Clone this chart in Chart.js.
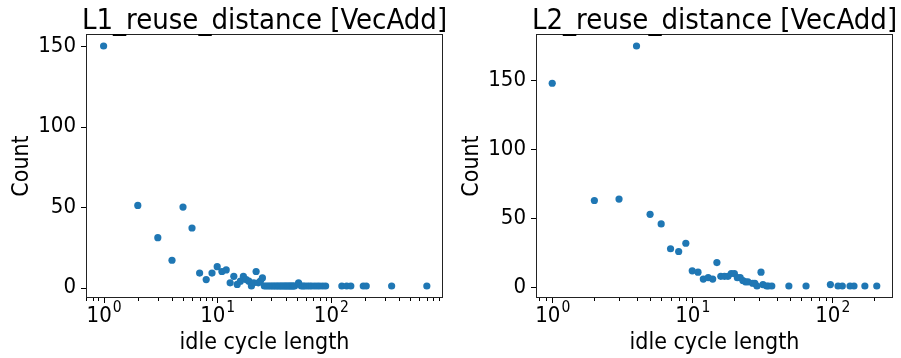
<!DOCTYPE html>
<html><head><meta charset="utf-8">
<script src="https://cdn.jsdelivr.net/npm/chart.js@4.4.0/dist/chart.umd.min.js"></script>
<style>
html,body{margin:0;padding:0;background:#fff;width:901px;height:358px;overflow:hidden}
canvas{position:absolute;top:0}
#c1{left:0}
#c2{left:455px}
</style></head><body>
<canvas id="c1" width="455" height="358" style="width:455px;height:358px"></canvas>
<canvas id="c2" width="446" height="358" style="width:446px;height:358px"></canvas>
<script>
// ---- data ----
const titles = ["L1_reuse_distance [VecAdd]", "L2_reuse_distance [VecAdd]"];
const xLabel = "idle cycle length";
const yLabel = "Count";
const yTicks = [0, 50, 100, 150];
const xMajorTicks = [1, 10, 100, 1000];

const l1X = [1,2,3,4,5,6,7,8,9,10,11,12,13,14,15,16,17,18,19,20,21,22,23,24,25,
  26,27,28,29,30,31,32,33,34,35,36,37,38,39,40,41,42,43,44,45,46,47,48,
  52,55,57,59,62,65,68,72,76,80,85,90,125,138,150,193,205,343,700];
const l1Y = [150,51,31,17,50,37,9,5,9,13,10,11,3,7,2,4,7,5,4,1,3,10,3,4,6,
  1,1,1,1,1,1,1,1,1,1,1,1,1,1,1,1,1,1,1,1,1,1,1,
  3,1,1,1,1,1,1,1,1,1,1,1,1,1,1,1,1,1,1];

const l2X = [1,2,3,4,5,6,7,8,9,10,11,12,13,14,15,16,17,18,19,20,21,22,23,24,25,
  27,28,29,31,32,34,35,37,49,65,97,110,118,134,143,171,208];
const l2Y = [148,63,64,175,53,46,28,26,32,12,11,6,7,6,18,8,8,8,10,10,7,7,5,4,4,
  3,3,1,11,2,1,1,1,1,1,2,1,1,1,1,1,1];

// ---- style ----
const COLOR = '#1f77b4';
const FAMILY = '"DejaVu Sans Condensed", "DejaVu Sans", sans-serif';

const framePlugin = {
  id: 'frame',
  afterDraw(chart, args, opts) {
    const {ctx, chartArea: a, scales: {x, y}} = chart;
    ctx.save();
    ctx.strokeStyle = '#222';
    ctx.lineWidth = 1;
    ctx.strokeRect(Math.round(a.left) + 0.5, Math.round(a.top) + 0.5,
      Math.round(a.right) - Math.round(a.left) - 1, Math.round(a.bottom) - Math.round(a.top) - 1);
    ctx.strokeStyle = '#000';
    ctx.beginPath();
    yTicks.forEach(v => {
      const py = Math.round(y.getPixelForValue(v)) + 0.5;
      ctx.moveTo(a.left - 5, py); ctx.lineTo(a.left, py);
    });
    for (let e = -1; e <= 3; e++) {
      for (let m = 1; m <= 9; m++) {
        const v = m * Math.pow(10, e);
        if (v < x.min || v > x.max) continue;
        const px = Math.round(x.getPixelForValue(v)) + 0.5;
        const len = m === 1 ? 5 : 3;
        ctx.moveTo(px, a.bottom); ctx.lineTo(px, a.bottom + len);
      }
    }
    ctx.stroke();
    // x tick labels as 10 with raised exponent
    ctx.fillStyle = '#000';
    ctx.textBaseline = 'alphabetic';
    ctx.textAlign = 'left';
    x.ticks.forEach(t => {
      const base = '10', exp = String(Math.round(Math.log10(t.value)));
      ctx.font = '22px ' + FAMILY;
      const wb = ctx.measureText(base).width;
      ctx.font = '15.5px ' + FAMILY;
      const we = ctx.measureText(exp).width;
      const px = x.getPixelForValue(t.value);
      const x0 = px - (wb + we) / 2;
      ctx.font = '22px ' + FAMILY;
      ctx.fillText(base, x0, 322);
      ctx.font = '15.5px ' + FAMILY;
      ctx.fillText(exp, x0 + wb + 1, 312);
    });
    // title
    ctx.font = '29px ' + FAMILY;
    ctx.textAlign = 'center';
    ctx.fillText(opts.text, (a.left + a.right) / 2, 29);
    ctx.restore();
  }
};

function makeChart(id, xs, ys, title, yWidth, padRight, yTitlePad) {
  const lo = Math.log10(Math.min(...xs)), hi = Math.log10(Math.max(...xs));
  const mx = 0.05 * (hi - lo);
  const ymin = Math.min(...ys), ymax = Math.max(...ys);
  const my = 0.05 * (ymax - ymin);
  return new Chart(document.getElementById(id), {
    type: 'scatter',
    data: { datasets: [{
      data: xs.map((v, i) => ({x: v, y: ys[i]})),
      backgroundColor: COLOR, borderColor: COLOR, borderWidth: 0,
      pointRadius: 3.6, pointHoverRadius: 3.6
    }]},
    options: {
      responsive: false, animation: false, events: [],
      layout: { padding: { top: 34, right: padRight, left: 0, bottom: 0 } },
      plugins: { legend: {display: false}, title: {display: false}, tooltip: {enabled: false},
                 frame: { text: title } },
      scales: {
        x: {
          type: 'logarithmic',
          min: Math.pow(10, lo - mx), max: Math.pow(10, hi + mx),
          grid: { display: false, drawTicks: false }, border: { display: false },
          afterBuildTicks: s => { s.ticks = xMajorTicks.filter(v => v >= s.min && v <= s.max).map(v => ({value: v, major: true})); },
          ticks: { autoSkip: false, maxRotation: 0, padding: 3, color: 'rgba(0,0,0,0)',
                   font: { family: FAMILY, size: 22 },
                   callback: v => '10^' + Math.round(Math.log10(v)) },
          title: { display: true, text: xLabel, color: '#000', font: { family: FAMILY, size: 23 },
                   padding: { top: 0, bottom: 1.2 } },
          afterFit: s => { s.height = 60; }
        },
        y: {
          type: 'linear', min: ymin - my, max: ymax + my,
          grid: { display: false, drawTicks: false }, border: { display: false },
          afterBuildTicks: s => { s.ticks = yTicks.map(v => ({value: v})); },
          ticks: { padding: 10, color: '#000', font: { family: FAMILY, size: 22 } },
          title: { display: true, text: yLabel, color: '#000', font: { family: FAMILY, size: 23 },
                   padding: { top: yTitlePad, bottom: 0 } },
          afterFit: s => { s.width = yWidth; }
        }
      }
    },
    plugins: [framePlugin]
  });
}

makeChart('c1', l1X, l1Y, titles[0], 86, 12, 8.2);
makeChart('c2', l2X, l2Y, titles[1], 81, 8, 3.2);
</script>
</body></html>
